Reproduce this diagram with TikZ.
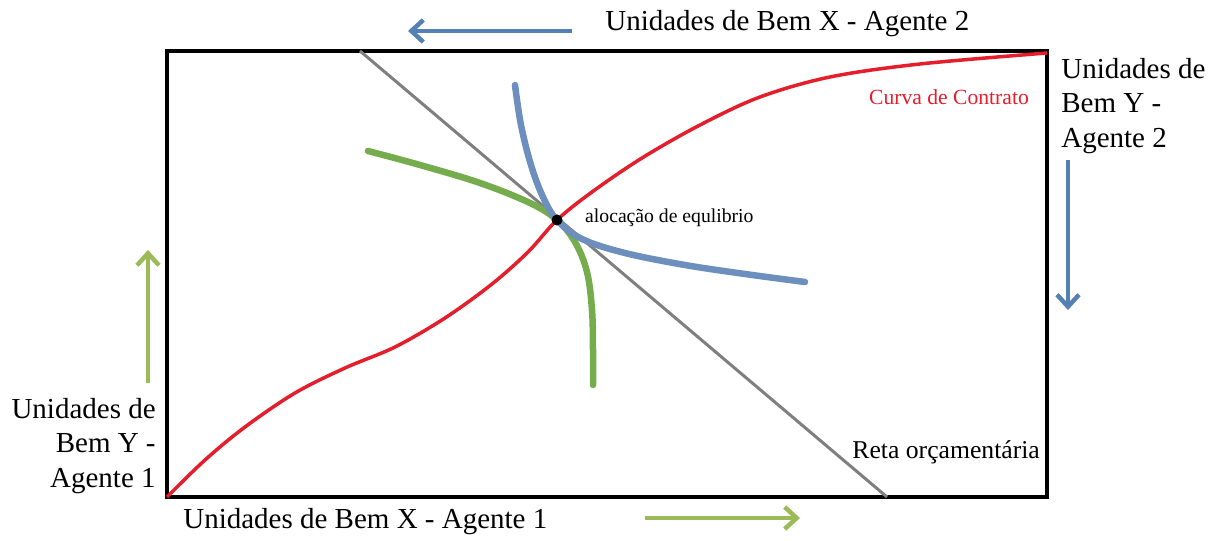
\documentclass[tikz,border=0pt]{standalone}
\usepackage{fontspec}
\setmainfont{Liberation Serif}
\usetikzlibrary{arrows.meta,positioning}
\definecolor{cag1}{HTML}{75AC4E}
\definecolor{cag1L}{HTML}{9BBB59}
\definecolor{cag2}{HTML}{6D8FBE}
\definecolor{cag2L}{HTML}{5580B4}
\definecolor{ccont}{HTML}{E41E2B}
\definecolor{creta}{HTML}{7F7F7F}
\tikzset{
  rotulo/.style={font=\fontsize{16.5}{19.5}\selectfont, inner sep=0pt},
  rotbloco/.style={rotulo, font=\fontsize{16.5}{19.5}\selectfont},
  seta1/.style={-{Straight Barb[length=2.4mm,width=4.4mm]}, line width=0.9mm, draw=cag1L},
  seta2/.style={-{Straight Barb[length=2.4mm,width=4.4mm]}, line width=0.9mm, draw=cag2L},
  indif1/.style={draw=cag1, line width=1.3mm, line cap=round},
  indif2/.style={draw=cag2, line width=1.3mm, line cap=round},
  contrato/.style={draw=ccont, line width=0.7mm},
  orcamento/.style={draw=creta, line width=0.6mm},
}
\begin{document}
\begin{tikzpicture}[x=0.2mm, y=-0.2mm]
  \useasboundingbox (0,0) rectangle (1215,541);
  % caixa de Edgeworth
  \coordinate (o1) at (167,497);
  \coordinate (o2) at (1047,51);
  \draw[line width=0.8mm] (o1) rectangle (o2);
  % reta orcamentaria
  \coordinate (rtop) at (360,51);
  \coordinate (rbot) at (887,497);
  \draw[orcamento] (rtop) -- (rbot);
  % curvas de indiferenca
  \coordinate (eq) at (557,220);
  \draw[indif1] plot[smooth, tension=0.6] coordinates {(368,151) (420,165) (480,183) (530,203) (eq) (575,242) (587,272) (592,310) (593,350) (593,385)};
  \draw[indif2] plot[smooth, tension=0.6] coordinates {(515,85) (521,125) (531,165) (543,197) (eq) (582,239) (625,253) (685,265) (745,274) (805,282)};
  % curva de contrato
  \draw[contrato] plot[smooth, tension=0.55] coordinates {(o1) (205,460) (245,427) (295,393) (345,368) (395,347) (445,318) (492,284) (528,252) (eq) (592,192) (642,158) (700,125) (760,97) (830,77) (920,64) (1047,53)};
  \fill (eq) circle (5.5);
  % textos
  \node[font=\fontsize{11.2}{13}\selectfont, anchor=west] (aloc) at (579,218) {alocação de equlibrio};
  \node[font=\fontsize{12.3}{14}\selectfont, text=ccont, anchor=east] (ccl) at (1035,97) {Curva de Contrato};
  \node[font=\fontsize{14.6}{16}\selectfont, anchor=east] (rol) at (1046,452) {Reta orçamentária};
  \node[rotulo, anchor=west] (x2) at (605,24) {Unidades de Bem X - Agente 2};
  \node[rotulo, anchor=west] (x1) at (183,522) {Unidades de Bem X - Agente 1};
  \node[rotbloco, align=left, anchor=north west] (y2) at (1061,58) {Unidades de\\Bem Y -\\Agente 2};
  \node[rotbloco, align=right, anchor=north east] (y1) at (156,398) {Unidades de\\Bem Y -\\Agente 1};
  % setas
  \coordinate (x2a) at (572,31);
  \coordinate (x2b) at (408,31);
  \draw[seta2] (x2a) -- (x2b);
  \coordinate (y2a) at (1068,160);
  \coordinate (y2b) at (1068,310);
  \draw[seta2] (y2a) -- (y2b);
  \coordinate (y1a) at (148,383);
  \coordinate (y1b) at (148,250);
  \draw[seta1] (y1a) -- (y1b);
  \coordinate (x1a) at (645,518);
  \coordinate (x1b) at (800,518);
  \draw[seta1] (x1a) -- (x1b);
\end{tikzpicture}
\end{document}
